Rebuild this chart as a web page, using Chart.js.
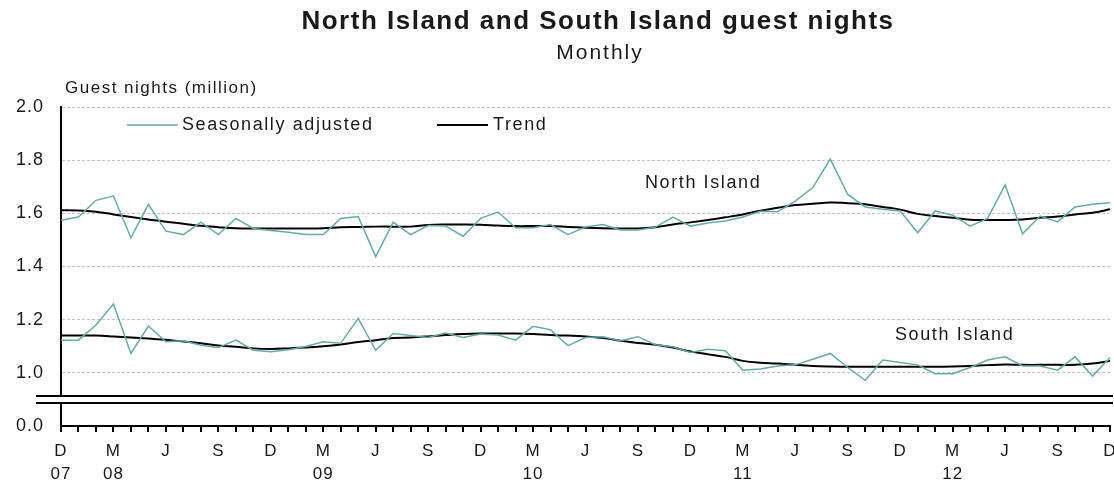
<!DOCTYPE html>
<html>
<head>
<meta charset="utf-8">
<script src="https://cdn.jsdelivr.net/npm/chart.js@4"></script>
<style>
  body { margin: 0; background: #fff; }
  #wrap { width: 1114px; height: 489px; position: relative; }
</style>
</head>
<body>
<div id="wrap"><canvas id="myChart"></canvas></div>
<script>
var months = [
  "Dec 07",
  "Jan 08", "Feb 08", "Mar 08", "Apr 08", "May 08", "Jun 08", "Jul 08", "Aug 08", "Sep 08", "Oct 08", "Nov 08", "Dec 08",
  "Jan 09", "Feb 09", "Mar 09", "Apr 09", "May 09", "Jun 09", "Jul 09", "Aug 09", "Sep 09", "Oct 09", "Nov 09", "Dec 09",
  "Jan 10", "Feb 10", "Mar 10", "Apr 10", "May 10", "Jun 10", "Jul 10", "Aug 10", "Sep 10", "Oct 10", "Nov 10", "Dec 10",
  "Jan 11", "Feb 11", "Mar 11", "Apr 11", "May 11", "Jun 11", "Jul 11", "Aug 11", "Sep 11", "Oct 11", "Nov 11", "Dec 11",
  "Jan 12", "Feb 12", "Mar 12", "Apr 12", "May 12", "Jun 12", "Jul 12", "Aug 12", "Sep 12", "Oct 12", "Nov 12", "Dec 12"
];

// guest nights (million)
var northAdjusted = [
  1.574, 1.586, 1.649, 1.665, 1.508, 1.634, 1.533, 1.520, 1.567, 1.520, 1.581, 1.543, 1.535,
  1.529, 1.520, 1.520, 1.581, 1.588, 1.437, 1.567, 1.520, 1.554, 1.552, 1.514, 1.581,
  1.605, 1.546, 1.546, 1.558, 1.520, 1.549, 1.558, 1.537, 1.537, 1.548, 1.586, 1.552,
  1.564, 1.571, 1.586, 1.608, 1.606, 1.646, 1.697, 1.804, 1.671, 1.624, 1.615, 1.609,
  1.527, 1.609, 1.593, 1.552, 1.581, 1.707, 1.523, 1.590, 1.568, 1.624, 1.634, 1.640
];
var northTrend = [
  1.612, 1.611, 1.606, 1.596, 1.586, 1.577, 1.568, 1.561, 1.553, 1.548, 1.544, 1.543, 1.543,
  1.543, 1.543, 1.544, 1.548, 1.549, 1.550, 1.550, 1.550, 1.556, 1.558, 1.558, 1.557,
  1.554, 1.552, 1.552, 1.552, 1.549, 1.546, 1.544, 1.543, 1.543, 1.548, 1.558, 1.566,
  1.575, 1.585, 1.596, 1.610, 1.621, 1.631, 1.636, 1.641, 1.638, 1.634, 1.624, 1.614,
  1.598, 1.590, 1.583, 1.576, 1.575, 1.575, 1.577, 1.583, 1.588, 1.596, 1.602, 1.615
];
var southAdjusted = [
  1.123, 1.123, 1.180, 1.259, 1.073, 1.176, 1.117, 1.121, 1.104, 1.095, 1.123, 1.085, 1.079,
  1.087, 1.099, 1.117, 1.111, 1.205, 1.085, 1.148, 1.140, 1.133, 1.150, 1.133, 1.146,
  1.142, 1.123, 1.175, 1.162, 1.102, 1.133, 1.136, 1.121, 1.136, 1.106, 1.098, 1.077,
  1.089, 1.083, 1.010, 1.014, 1.026, 1.030, 1.051, 1.073, 1.020, 0.972, 1.048, 1.039,
  1.030, 0.997, 0.997, 1.020, 1.048, 1.060, 1.026, 1.026, 1.010, 1.060, 0.988, 1.058
];
var southTrend = [
  1.140, 1.140, 1.140, 1.137, 1.133, 1.129, 1.124, 1.118, 1.111, 1.103, 1.098, 1.092, 1.090,
  1.092, 1.095, 1.100, 1.107, 1.116, 1.123, 1.131, 1.133, 1.137, 1.142, 1.146, 1.148,
  1.148, 1.148, 1.146, 1.142, 1.140, 1.137, 1.131, 1.121, 1.112, 1.106, 1.095, 1.080,
  1.070, 1.060, 1.045, 1.038, 1.035, 1.030, 1.026, 1.024, 1.023, 1.023, 1.023, 1.023,
  1.023, 1.023, 1.024, 1.026, 1.029, 1.031, 1.030, 1.030, 1.030, 1.030, 1.035, 1.045
];

// y axis: 1.0 to 2.0, with a break down to 0.0 (the "0.0" tick sits at 0.8 on the scale)
var yTicks = [0.8, 1.0, 1.2, 1.4, 1.6, 1.8, 2.0];
var yTickText = ["0.0", "1.0", "1.2", "1.4", "1.6", "1.8", "2.0"];

var teal = "#6aa9a9";
var font = "'Liberation Sans', Arial, sans-serif";

var extras = {
  id: "extras",
  beforeDraw: function (chart) {
    chart.ctx.letterSpacing = "1px";
  },
  afterDraw: function (chart) {
    var c = chart.ctx, a = chart.chartArea;
    c.save();
    // axis break
    var b1 = a.bottom - 30, b2 = a.bottom - 23;
    c.fillStyle = "#fff";
    c.fillRect(36, b1, a.right + 3 - 36, b2 - b1);
    c.strokeStyle = "#000";
    c.lineWidth = 2;
    c.beginPath();
    c.moveTo(36, b1); c.lineTo(a.right + 3, b1);
    c.moveTo(36, b2); c.lineTo(a.right + 3, b2);
    c.stroke();

    c.fillStyle = "#1a1a1a";
    c.textBaseline = "middle";
    c.textAlign = "center";
    c.letterSpacing = "1.5px";
    c.font = "bold 26px " + font;
    c.fillText("North Island and South Island guest nights", 598, 22);
    c.letterSpacing = "2px";
    c.font = "21px " + font;
    c.fillText("Monthly", 600, 53);

    c.textAlign = "left";
    c.letterSpacing = "1.5px";
    c.font = "17px " + font;
    c.fillText("Guest nights (million)", 65, 88);

    // legend
    c.lineWidth = 1.5;
    c.strokeStyle = teal;
    c.beginPath(); c.moveTo(127, 125); c.lineTo(178, 125); c.stroke();
    c.strokeStyle = "#000";
    c.lineWidth = 2;
    c.beginPath(); c.moveTo(437, 125); c.lineTo(488, 125); c.stroke();
    c.letterSpacing = "1.6px";
    c.font = "18px " + font;
    c.fillText("Seasonally adjusted", 182, 125);
    c.fillText("Trend", 493, 125);

    c.fillText("North Island", 645, 183);
    c.fillText("South Island", 895, 335);
    c.restore();
  }
};

var ctx = document.getElementById("myChart").getContext("2d");
var chart = new Chart(ctx, {
  type: "line",
  data: {
    labels: months,
    datasets: [
      { label: "North Island seasonally adjusted", data: northAdjusted, borderColor: teal, borderWidth: 1.5, pointRadius: 0, tension: 0 },
      { label: "North Island trend", data: northTrend, borderColor: "#000", borderWidth: 2, pointRadius: 0, tension: 0.4 },
      { label: "South Island seasonally adjusted", data: southAdjusted, borderColor: teal, borderWidth: 1.5, pointRadius: 0, tension: 0 },
      { label: "South Island trend", data: southTrend, borderColor: "#000", borderWidth: 2, pointRadius: 0, tension: 0.4 }
    ]
  },
  options: {
    responsive: true,
    maintainAspectRatio: false,
    animation: false,
    events: [],
    layout: { padding: { top: 107, right: 4, left: 0, bottom: 0 } },
    plugins: { legend: { display: false }, tooltip: { enabled: false } },
    scales: {
      x: {
        offset: false,
        grid: { drawOnChartArea: false, color: "#000", lineWidth: 2, tickLength: 6 },
        border: { color: "#000", width: 2 },
        ticks: {
          autoSkip: false,
          maxRotation: 0,
          padding: 8,
          color: "#1a1a1a",
          font: { family: font, size: 17, lineHeight: 1.35 },
          callback: function (v, i) {
            var m = months[i].slice(0, 3), yr = months[i].slice(4);
            var letter = { Mar: "M", Jun: "J", Sep: "S", Dec: "D" }[m];
            if (!letter) return "";
            if (m === "Mar" || i === 0) return [letter, yr];
            return letter;
          }
        },
        afterFit: function (s) { s.height = 63; s.paddingRight = 0; s.paddingLeft = 0; }
      },
      y: {
        min: 0.8,
        max: 2.0,
        afterBuildTicks: function (s) {
          s.ticks = yTicks.map(function (v) { return { value: v }; });
        },
        grid: {
          drawTicks: false,
          color: function (c) { return c.tick && c.tick.value < 0.9 ? "rgba(0,0,0,0)" : "#c4c4c4"; },
          lineWidth: 1
        },
        border: { color: "#000", width: 2, dash: [3, 2] },
        ticks: {
          padding: 17,
          color: "#1a1a1a",
          font: { family: font, size: 18 },
          callback: function (v) {
            var k = yTicks.indexOf(Math.round(v * 10) / 10);
            return k >= 0 ? yTickText[k] : "";
          }
        },
        afterFit: function (s) { s.width = 61; }
      }
    }
  },
  plugins: [extras]
});
</script>
</body>
</html>
